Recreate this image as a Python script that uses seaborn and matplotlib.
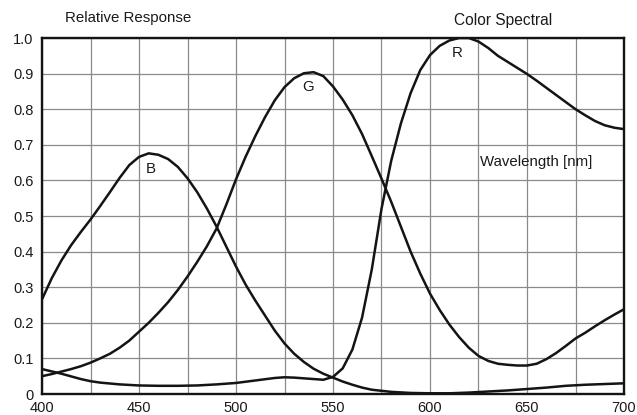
import matplotlib
matplotlib.use("Agg")
import matplotlib.pyplot as plt
import seaborn as sns
import numpy as np

# Spectral response curves
b_wl = [400, 405, 410, 415, 420, 425, 430, 435, 440, 445, 450, 455, 460, 465, 470,
        475, 480, 485, 490, 495, 500, 505, 510, 515, 520, 525, 530, 535, 540, 545,
        550, 555, 560, 565, 570, 575, 580, 590, 600, 610, 620, 630, 640, 650, 660,
        670, 680, 690, 700]
b_val = [0.266, 0.325, 0.375, 0.418, 0.455, 0.49, 0.528, 0.567, 0.607, 0.643, 0.666,
         0.676, 0.672, 0.66, 0.638, 0.606, 0.567, 0.521, 0.47, 0.414, 0.358, 0.307,
         0.262, 0.22, 0.178, 0.142, 0.113, 0.09, 0.071, 0.057, 0.046, 0.035, 0.026,
         0.018, 0.012, 0.009, 0.006, 0.003, 0.002, 0.002, 0.004, 0.007, 0.010,
         0.014, 0.018, 0.023, 0.026, 0.028, 0.030]

g_wl = [400, 405, 410, 415, 420, 425, 430, 435, 440, 445, 450, 455, 460, 465, 470,
        475, 480, 485, 490, 495, 500, 505, 510, 515, 520, 525, 530, 535, 540, 545,
        550, 555, 560, 565, 570, 575, 580, 585, 590, 595, 600, 605, 610, 615, 620,
        625, 630, 635, 640, 645, 650, 655, 660, 665, 670, 675, 680, 685, 690, 695,
        700]
g_val = [0.05, 0.056, 0.063, 0.07, 0.078, 0.088, 0.10, 0.113, 0.13, 0.15, 0.175,
         0.20, 0.228, 0.258, 0.292, 0.33, 0.371, 0.415, 0.465, 0.532, 0.603, 0.667,
         0.725, 0.778, 0.825, 0.862, 0.887, 0.901, 0.904, 0.893, 0.864, 0.827,
         0.783, 0.73, 0.668, 0.605, 0.54, 0.47, 0.40, 0.338, 0.282, 0.236, 0.195,
         0.16, 0.13, 0.107, 0.093, 0.085, 0.082, 0.08, 0.08, 0.085, 0.098, 0.115,
         0.135, 0.156, 0.172, 0.19, 0.207, 0.223, 0.238]

r_wl = [400, 410, 420, 425, 430, 440, 450, 460, 470, 480, 490, 500, 510, 520, 525,
        530, 535, 540, 545, 550, 555, 560, 565, 570, 575, 580, 585, 590, 595, 600,
        605, 610, 615, 620, 625, 630, 635, 640, 645, 650, 655, 660, 665, 670, 675,
        680, 685, 690, 695, 700]
r_val = [0.07, 0.057, 0.042, 0.036, 0.032, 0.027, 0.024, 0.023, 0.023, 0.024,
         0.027, 0.031, 0.038, 0.045, 0.047, 0.046, 0.044, 0.042, 0.040, 0.048,
         0.072, 0.125, 0.215, 0.35, 0.52, 0.655, 0.76, 0.845, 0.91, 0.952, 0.978,
         0.993, 1.0, 1.0, 0.99, 0.972, 0.95, 0.933, 0.916, 0.899, 0.88, 0.86,
         0.84, 0.82, 0.80, 0.783, 0.767, 0.755, 0.748, 0.744]

curves = [(b_wl, b_val), (g_wl, g_val), (r_wl, r_val)]
curve_labels = ["B", "G", "R"]
label_pos = [(456, 0.632), (537.3, 0.863), (614, 0.957)]

x_ticks = [400, 450, 500, 550, 600, 650, 700]
y_ticks = [0, 0.1, 0.2, 0.3, 0.4, 0.5, 0.6, 0.7, 0.8, 0.9, 1.0]
y_tick_labels = ["0", "0.1", "0.2", "0.3", "0.4", "0.5", "0.6", "0.7", "0.8", "0.9", "1.0"]

sns.set_theme(style="white")
plt.rcParams['font.family'] = ['Liberation Sans', 'DejaVu Sans']

fig = plt.figure(figsize=(6.37, 4.15), dpi=100)
ax = fig.add_axes([42 / 637, 1 - 394 / 415, (624 - 42) / 637, (394 - 38) / 415])

# Draw the three response curves
for wl, val in curves:
    sns.lineplot(x=wl, y=val, ax=ax, color="#141414", linewidth=1.8,
                 estimator=None, sort=False, solid_joinstyle="round")

for lab, (lx, ly) in zip(curve_labels, label_pos):
    ax.text(lx, ly, lab, ha="center", va="center", fontsize=10.8, color="#1a1a1a")

ax.text(625.6, 0.652, "Wavelength [nm]", ha="left", va="center", fontsize=10.8,
        color="#1a1a1a")

ax.set_xlim(400, 700)
ax.set_ylim(0, 1.0)
ax.set_xticks(x_ticks)
ax.set_yticks(y_ticks)
ax.set_yticklabels(y_tick_labels)
ax.set_xticks(np.arange(400, 701, 25), minor=True)
ax.grid(True, which="both", color="#8a8a8a", linewidth=0.9)
ax.set_axisbelow(True)
ax.tick_params(axis="both", which="both", length=0, labelsize=10.5, colors="#1a1a1a")
ax.tick_params(axis="x", pad=5)
ax.tick_params(axis="y", pad=6)

for side in ["left", "right", "top", "bottom"]:
    ax.spines[side].set_visible(True)
    ax.spines[side].set_color("#141414")
    ax.spines[side].set_linewidth(1.7)

ax.set_xlabel("")
ax.set_ylabel("")

fig.text(65 / 637, 1 - 18 / 415, "Relative Response", ha="left", va="center",
         fontsize=10.8, color="#1a1a1a")
fig.text(453.7 / 637, 1 - 20 / 415, "Color Spectral", ha="left", va="center",
         fontsize=11.2, color="#1a1a1a")

fig.savefig("out.png", dpi=100)
